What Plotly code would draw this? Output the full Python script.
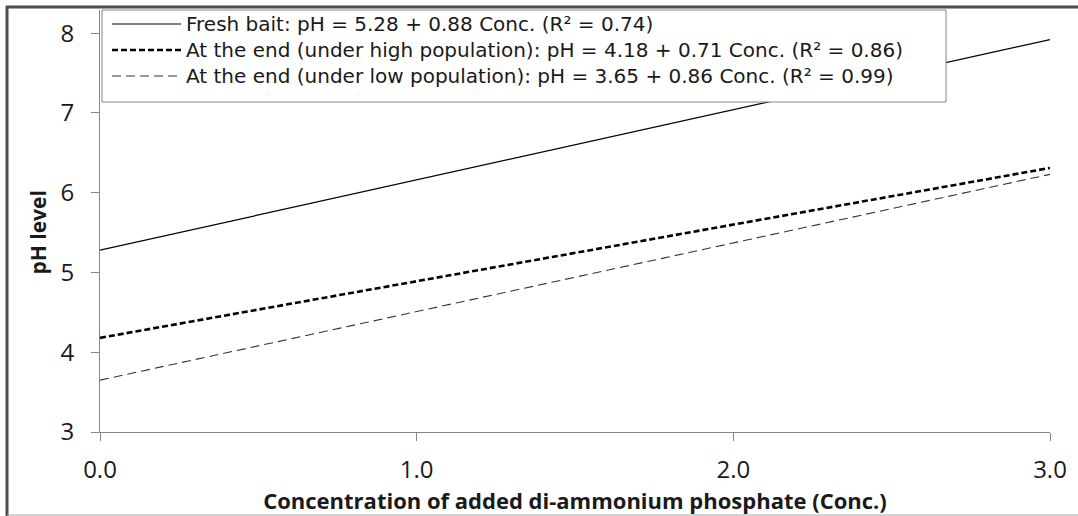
import plotly.graph_objects as go

# ---- data ----
conc = [0.0, 3.0]
fresh_ph = [5.28, 7.92]
high_ph = [4.18, 6.31]
low_ph = [3.65, 6.23]
series_names = [
    "Fresh bait: pH = 5.28 + 0.88 Conc. (R\u00b2 = 0.74)",
    "At the end (under high population): pH = 4.18 + 0.71 Conc. (R\u00b2 = 0.86)",
    "At the end (under low population): pH = 3.65 + 0.86 Conc. (R\u00b2 = 0.99)",
]
x_ticks = [0, 1, 2, 3]
x_ticklabels = ["0.0", "1.0", "2.0", "3.0"]
y_ticks = [3, 4, 5, 6, 7, 8]

FONT = "Open Sans"
LEG_FONT = "DejaVu Sans"
LEG_SIZE = 20
TXT = "#1a1a1a"
AX = "#868686"

# plot area geometry (pixels) used to convert to paper coords
W, H = 1078, 516
L, R, T, B = 100, 1050, 10, 432


def px(x):
    return (x - L) / (R - L)


def py(y):
    return (B - y) / (B - T)


styles = [
    dict(color="#000000", width=1.2, dash="solid"),
    dict(color="#000000", width=2.6, dash="6px,3px"),
    dict(color="#333333", width=1.1, dash="9px,5px"),
]

fig = go.Figure()
for name, ys, st in zip(series_names, [fresh_ph, high_ph, low_ph], styles):
    fig.add_trace(go.Scatter(x=conc, y=ys, mode="lines", name=name,
                             line=st, showlegend=False, hoverinfo="skip"))

shapes = []
# outer chart border
shapes.append(dict(type="line", xref="paper", yref="paper", x0=px(7), x1=px(7),
                   y0=py(6), y1=py(516), line=dict(color="#4d4d4d", width=3)))
shapes.append(dict(type="line", xref="paper", yref="paper", x0=px(6), x1=px(1078),
                   y0=py(7), y1=py(7), line=dict(color="#4d4d4d", width=3)))
shapes.append(dict(type="line", xref="paper", yref="paper", x0=px(7), x1=px(1078),
                   y0=py(515), y1=py(515), line=dict(color="#a6a6a6", width=1)))
# legend box
shapes.append(dict(type="rect", xref="paper", yref="paper", x0=px(102), x1=px(946),
                   y0=py(102), y1=py(10), line=dict(color=AX, width=1),
                   fillcolor="white", layer="above"))
line_gap = 1.3 * LEG_SIZE
mid = 50
rows = [mid - line_gap, mid, mid + line_gap]
annotations = []
for row, st in zip(rows, styles):
    shapes.append(dict(type="line", xref="paper", yref="paper", x0=px(112), x1=px(181),
                       y0=py(row), y1=py(row), layer="above",
                       line=dict(color=st["color"], width=st["width"], dash=st["dash"])))
annotations.append(dict(xref="paper", yref="paper", x=px(184), y=py(mid),
                        xanchor="left", yanchor="middle", align="left", showarrow=False,
                        text="<br>".join(series_names),
                        font=dict(family=LEG_FONT, size=LEG_SIZE, color=TXT)))

# y-axis title
annotations.append(dict(xref="paper", yref="y", x=px(38), y=5.5, textangle=-90,
                        xanchor="center", yanchor="middle", showarrow=False,
                        text="<b>pH level</b>", font=dict(family=FONT, size=21, color=TXT)))

fig.update_layout(
    width=W, height=H,
    margin=dict(l=L, r=W - R, t=T, b=H - B, autoexpand=False),
    paper_bgcolor="white", plot_bgcolor="white",
    font=dict(family=FONT, color=TXT),
    shapes=shapes, annotations=annotations,
    showlegend=False,
)
fig.update_xaxes(range=[0, 3], tickvals=x_ticks, ticktext=x_ticklabels,
                 showgrid=False, zeroline=False, showline=True, linecolor=AX, linewidth=1,
                 ticks="outside", ticklen=8, tickcolor=AX, tickwidth=1,
                 ticklabelstandoff=8,
                 tickfont=dict(family=FONT, size=24, color=TXT),
                 title=dict(text="<b>Concentration of added di-ammonium phosphate (Conc.)</b>",
                            font=dict(family=FONT, size=22, color=TXT), standoff=2))
fig.update_yaxes(range=[3, 8.29], tickvals=y_ticks,
                 showgrid=False, zeroline=False, showline=True, linecolor=AX, linewidth=1,
                 ticks="outside", ticklen=8, tickcolor=AX, tickwidth=1,
                 ticklabelstandoff=12,
                 tickfont=dict(family=FONT, size=24, color=TXT))

fig.write_html("out.html", config={"displayModeBar": False},
               post_script="document.body.style.margin='0';")
